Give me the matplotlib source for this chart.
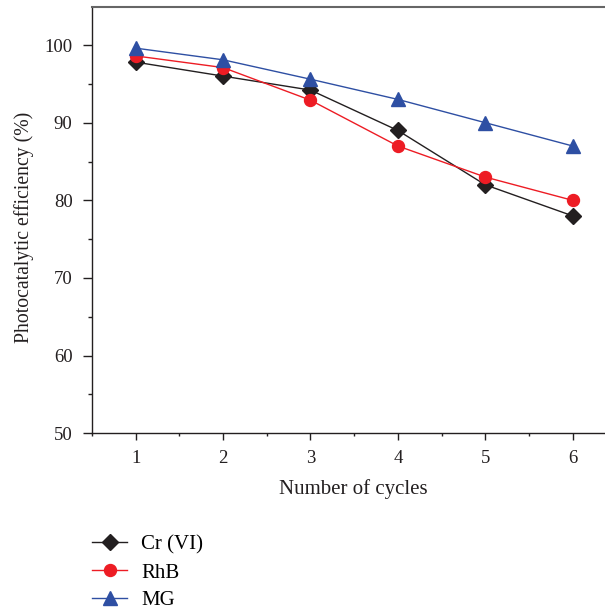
import matplotlib
matplotlib.use("Agg")
import matplotlib.pyplot as plt
from matplotlib.ticker import MultipleLocator

plt.rcParams['font.family'] = ['Liberation Serif', 'DejaVu Serif']

cycles = [1, 2, 3, 4, 5, 6]
cr_vi = [97.8, 96.0, 94.2, 89.0, 82.0, 78.0]
rhb = [98.6, 97.1, 92.9, 87.0, 83.0, 80.0]
mg = [99.6, 98.1, 95.6, 93.0, 90.0, 87.0]
labels = ["Cr (VI)", "RhB", "MG"]

fig = plt.figure(figsize=(6.05, 6.11), dpi=100)
ax = fig.add_axes([92/605, 1-433.3/611, 1-92/605, (433.3-7)/611])

c_black = '#231f20'
c_red = '#ed1c24'
c_blue = '#2e4fa3'

ax.plot(cycles, cr_vi, color=c_black, lw=1.0, marker='D', ms=8.3, label=labels[0])
ax.plot(cycles, rhb, color=c_red, lw=1.0, marker='o', ms=8.6, label=labels[1])
ax.plot(cycles, mg, color=c_blue, lw=1.0, marker='^', ms=10.5, label=labels[2])

ax.set_xlim(0.5, 6.37)
ax.set_ylim(50, 104.9)
ax.xaxis.set_major_locator(MultipleLocator(1))
ax.xaxis.set_minor_locator(MultipleLocator(0.5))
ax.yaxis.set_major_locator(MultipleLocator(10))
ax.yaxis.set_minor_locator(MultipleLocator(5))

ax.spines['right'].set_visible(False)
ax.spines['top'].set_color('#666666')
ax.spines['top'].set_linewidth(1.5)
for s in ['left', 'bottom']:
    ax.spines[s].set_color(c_black)
    ax.spines[s].set_linewidth(1.0)

ax.tick_params(axis='x', which='major', direction='out', length=5, width=1, pad=7, labelsize=13.5, colors=c_black)
ax.tick_params(axis='x', which='minor', direction='out', length=2.5, width=1, colors=c_black)
ax.tick_params(axis='y', which='major', direction='out', length=6.5, width=1, pad=7.5, labelsize=13.5, colors=c_black)
ax.tick_params(axis='y', which='minor', direction='out', length=3, width=1, colors=c_black)
ax.tick_params(top=False, right=False, which='both')

ax.set_xlabel("Number of cycles", fontsize=15, color=c_black)
ax.set_ylabel("Photocatalytic efficiency (%)", fontsize=14.2, color=c_black)
ax.xaxis.set_label_coords(0.51, -0.107)
ax.yaxis.set_label_coords(-0.113, 0.484)

fig.legend(loc='upper left', bbox_to_anchor=(92/605, 1-535/611), frameon=False,
           fontsize=15, borderpad=0, borderaxespad=0, handlelength=1.7,
           handletextpad=0.67, labelspacing=0.4)

fig.savefig("out.png", dpi=100)
